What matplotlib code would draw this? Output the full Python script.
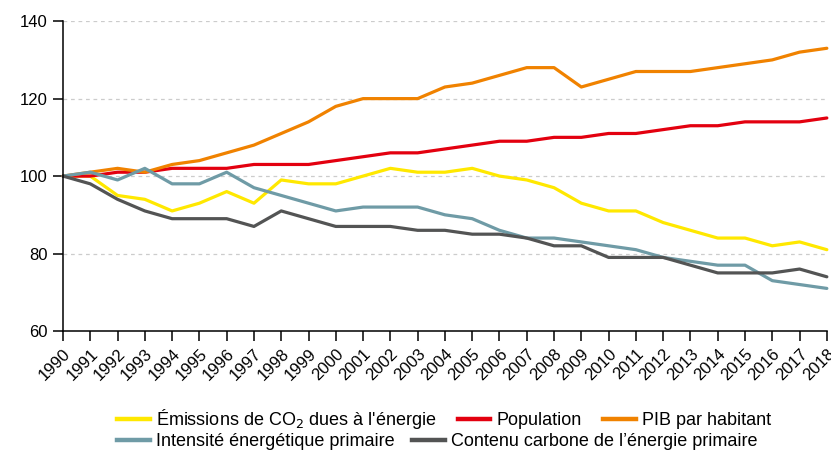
import numpy as np
import matplotlib.pyplot as plt
from matplotlib.lines import Line2D

plt.rcParams['font.family'] = ['Liberation Sans', 'DejaVu Sans']

years = list(range(1990, 2019))

co2 = [100, 100, 95, 94, 91, 93, 96, 93, 99, 98, 98, 100, 102, 101, 101, 102, 100, 99, 97, 93,
       91, 91, 88, 86, 84, 84, 82, 83, 81]
population = [100, 100, 101, 101, 102, 102, 102, 103, 103, 103, 104, 105, 106, 106, 107, 108, 109, 109,
              110, 110, 111, 111, 112, 113, 113, 114, 114, 114, 115]
pib = [100, 101, 102, 101, 103, 104, 106, 108, 111, 114, 118, 120, 120, 120, 123, 124, 126, 128, 128,
       123, 125, 127, 127, 127, 128, 129, 130, 132, 133]
intensite = [100, 101, 99, 102, 98, 98, 101, 97, 95, 93, 91, 92, 92, 92, 90, 89, 86, 84, 84, 83, 82,
             81, 79, 78, 77, 77, 73, 72, 71]
carbone = [100, 98, 94, 91, 89, 89, 89, 87, 91, 89, 87, 87, 87, 86, 86, 85, 85, 84, 82, 82, 79, 79,
           79, 77, 75, 75, 75, 76, 74]

labels = ["Émissions de CO$_2$ dues à l'énergie", "Population", "PIB par habitant",
          "Intensité énergétique primaire", "Contenu carbone de l\u2019énergie primaire"]
colors = ['#FFE800', '#E3000F', '#F08200', '#6F9BA6', '#535454']
series = [co2, population, pib, intensite, carbone]

fig = plt.figure(figsize=(8.31, 4.5), dpi=100)
ax = fig.add_axes([0.0758, 0.2644, 0.9192, 0.6886])

for ys, c in zip(series, colors):
    ax.plot(years, ys, color=c, lw=2.3, solid_capstyle='round', solid_joinstyle='round', clip_on=False)

ax.set_xlim(1990, 2018)
ax.set_ylim(60, 140)
ax.set_yticks([60, 80, 100, 120, 140])
ax.set_xticks(years)
ax.set_xticklabels([str(y) for y in years], rotation=45, ha='right', rotation_mode='anchor')
ax.tick_params(axis='both', labelsize=12, direction='out', length=7, width=1.1, color='black')
ax.tick_params(axis='x', pad=4)
ax.tick_params(axis='y', pad=4)
for y in [80, 100, 120, 140]:
    ax.axhline(y, color='#cccccc', lw=0.9, ls=(0, (3, 3)), zorder=0)
ax.spines['top'].set_visible(False)
ax.spines['right'].set_visible(False)
ax.spines['left'].set_linewidth(1.1)
ax.spines['bottom'].set_linewidth(1.1)

def make_handles(idx):
    return [Line2D([0], [0], color=colors[i], lw=3.2) for i in idx]

kw = dict(frameon=False, fontsize=13, handlelength=1.8, handletextpad=0.33,
          borderpad=0, borderaxespad=0)
fig.legend(make_handles([0, 1, 2]), labels[:3], ncol=3, loc='center left',
           bbox_to_anchor=(0.141, 0.069), columnspacing=1.2, **kw)
fig.legend(make_handles([3, 4]), labels[3:], ncol=2, loc='center left',
           bbox_to_anchor=(0.141, 0.018), columnspacing=1.0, **kw)

fig.savefig('out.png', dpi=100)
